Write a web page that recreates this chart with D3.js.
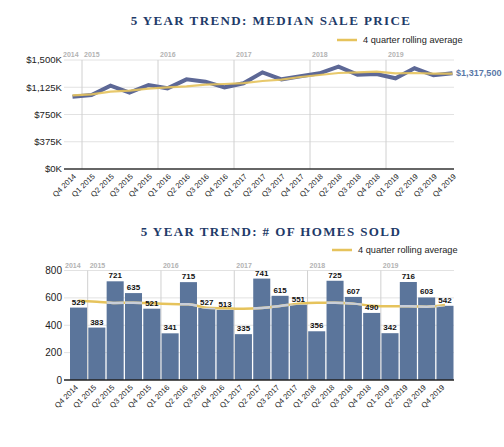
<!DOCTYPE html>
<html>
<head>
<meta charset="utf-8">
<script src="https://cdn.jsdelivr.net/npm/d3@7"></script>
<style>
  body { margin: 0; background: #fff; }
  text { font-family: "Liberation Sans", Arial, sans-serif; }
  .title { font-family: "Liberation Serif", "DejaVu Serif", serif; font-weight: bold; fill: #1e3a68; }
</style>
</head>
<body>
<div id="chart"></div>
<script>

// quarters shared by both charts
var quarters = ["Q4 2014","Q1 2015","Q2 2015","Q3 2015","Q4 2015","Q1 2016","Q2 2016","Q3 2016","Q4 2016",
    "Q1 2017","Q2 2017","Q3 2017","Q4 2017","Q1 2018","Q2 2018","Q3 2018","Q4 2018",
    "Q1 2019","Q2 2019","Q3 2019","Q4 2019"];
var years = ["2014","2015","2016","2017","2018","2019"];

// median sale price (in $)
var medianPrice = [995000,1018000,1146000,1050000,1156000,1110000,1234000,1202000,1124000,
    1179000,1330000,1234000,1275000,1317000,1408000,1298000,1307000,1248000,1386000,1289000,1317500];
var priceRolling = [1014000,1028000,1064000,1078000,1105000,1124000,1138000,1160000,1170000,
    1183000,1211000,1229000,1266000,1294000,1321000,1330000,1339000,1317000,1321000,1312000,1312000];
var priceTicks = [0,375000,750000,1125000,1500000];

// homes sold
var homesSold = [529,383,721,635,521,341,715,527,513,335,741,615,551,356,725,607,490,342,716,603,542];
var homesRolling = [579,572,563,565,560,555,553,528,524,520,526,541,558,565,565,558,543,538,538,536,548];
var homesTicks = [0,200,400,600,800];

var gold = "#e6c35c";

var svg = d3.select("#chart").append("svg")
    .attr("width", 504)
    .attr("height", 447);

svg.append("rect").attr("width", 504).attr("height", 447).attr("fill", "#fff");

function legend(x, y) {
    svg.append("line")
        .attr("x1", x).attr("x2", x + 20)
        .attr("y1", y).attr("y2", y)
        .attr("stroke", gold).attr("stroke-width", 2.5);
    svg.append("text")
        .attr("x", x + 26).attr("y", y + 3.3)
        .attr("font-size", 9.2).attr("fill", "#222")
        .text("4 quarter rolling average");
}

function xLabels(g, xf, axisY, dx) {
    g.selectAll(".xl")
        .data(quarters)
        .enter().append("text")
        .attr("class", "xl")
        .attr("transform", function(d){ return "translate(" + (xf(d) + dx) + "," + (axisY + 6) + ") rotate(-45)"; })
        .attr("text-anchor", "end")
        .attr("dy", "0.35em")
        .attr("font-size", 7.6)
        .attr("fill", "#222")
        .text(function(d){ return d; });
}

/* ---------- chart 1: median sale price ---------- */

svg.append("text").attr("class", "title")
    .attr("x", 271).attr("y", 25)
    .attr("text-anchor", "middle")
    .attr("font-size", 13)
    .attr("letter-spacing", 1.4)
    .text("5 YEAR TREND: MEDIAN SALE PRICE");
legend(337, 40);

var x1 = d3.scalePoint().domain(quarters).range([72.5, 452.5]);
var step1 = x1.step();
var y1 = d3.scaleLinear().domain([0, 1500000]).range([169, 60]);

var g1 = svg.append("g");

g1.selectAll(".grid")
    .data(priceTicks.slice(1))
    .enter().append("line")
    .attr("x1", 64).attr("x2", 454)
    .attr("y1", function(d){ return y1(d); })
    .attr("y2", function(d){ return y1(d); })
    .attr("stroke", "#e2e2e2").attr("stroke-width", 1);

g1.selectAll(".ylab")
    .data(priceTicks)
    .enter().append("text")
    .attr("x", 62)
    .attr("y", function(d){ return y1(d); })
    .attr("dy", "0.35em")
    .attr("text-anchor", "end")
    .attr("font-size", 9.6)
    .attr("fill", "#222")
    .text(function(d){ return "$" + d3.format(",")(d / 1000) + "K"; });

// year separators
g1.selectAll(".yr")
    .data(years.slice(1))
    .enter().append("line")
    .attr("x1", function(d){ return x1("Q1 " + d) - step1 / 2; })
    .attr("x2", function(d){ return x1("Q1 " + d) - step1 / 2; })
    .attr("y1", 60).attr("y2", 169)
    .attr("stroke", "#d0d0d0");

g1.selectAll(".yrl")
    .data(years)
    .enter().append("text")
    .attr("x", function(d){ return d == "2014" ? 63 : x1("Q1 " + d) - step1 / 2 + 2; })
    .attr("y", 57)
    .attr("font-size", 7)
    .attr("font-weight", "bold")
    .attr("fill", "#b3b3b3")
    .text(function(d){ return d; });

g1.append("line")
    .attr("x1", 64).attr("x2", 454)
    .attr("y1", 169).attr("y2", 169)
    .attr("stroke", "#333").attr("stroke-width", 1.5);

var line1 = d3.line()
    .x(function(d, i){ return x1(quarters[i]); })
    .y(function(d){ return y1(d); });

g1.append("path")
    .datum(medianPrice)
    .attr("d", line1)
    .attr("fill", "none")
    .attr("stroke", "#5d6896")
    .attr("stroke-width", 4)
    .attr("stroke-linejoin", "miter");

g1.append("path")
    .datum(priceRolling)
    .attr("d", line1)
    .attr("fill", "none")
    .attr("stroke", gold)
    .attr("stroke-width", 2.2)
    .attr("opacity", 0.9);

g1.append("text")
    .attr("x", 456)
    .attr("y", y1(medianPrice[medianPrice.length - 1]))
    .attr("dy", "0.35em")
    .attr("font-size", 9.1)
    .attr("font-weight", "bold")
    .attr("fill", "#5a77a8")
    .text("$" + d3.format(",")(medianPrice[medianPrice.length - 1]));

xLabels(g1, x1, 169, 2);

/* ---------- chart 2: homes sold ---------- */

svg.append("text").attr("class", "title")
    .attr("x", 271).attr("y", 236)
    .attr("text-anchor", "middle")
    .attr("font-size", 13)
    .attr("letter-spacing", 1.4)
    .text("5 YEAR TREND: # OF HOMES SOLD");
legend(332, 250);

var x2 = d3.scaleBand().domain(quarters).range([70, 453.5]).paddingInner(0.07);
var y2 = d3.scaleLinear().domain([0, 800]).range([380, 270.5]);
var gap2 = x2.step() - x2.bandwidth();

var g2 = svg.append("g");

g2.selectAll(".grid")
    .data(homesTicks.slice(1))
    .enter().append("line")
    .attr("x1", 64).attr("x2", 454)
    .attr("y1", function(d){ return y2(d); })
    .attr("y2", function(d){ return y2(d); })
    .attr("stroke", "#e2e2e2");

g2.selectAll(".ylab")
    .data(homesTicks)
    .enter().append("text")
    .attr("x", 62)
    .attr("y", function(d){ return y2(d); })
    .attr("dy", "0.35em")
    .attr("text-anchor", "end")
    .attr("font-size", 10)
    .attr("fill", "#222")
    .text(function(d){ return d; });

g2.selectAll(".yr")
    .data(years.slice(1))
    .enter().append("line")
    .attr("x1", function(d){ return x2("Q1 " + d) - gap2 / 2; })
    .attr("x2", function(d){ return x2("Q1 " + d) - gap2 / 2; })
    .attr("y1", 270.5).attr("y2", 380)
    .attr("stroke", "#d0d0d0");

g2.selectAll(".yrl")
    .data(years)
    .enter().append("text")
    .attr("x", function(d){ return d == "2014" ? 65 : x2("Q1 " + d) - gap2 / 2 + 2; })
    .attr("y", 268)
    .attr("font-size", 7)
    .attr("font-weight", "bold")
    .attr("fill", "#b3b3b3")
    .text(function(d){ return d; });

g2.selectAll(".bar")
    .data(homesSold)
    .enter().append("rect")
    .attr("class", "bar")
    .attr("x", function(d, i){ return x2(quarters[i]); })
    .attr("y", function(d){ return y2(d); })
    .attr("width", x2.bandwidth())
    .attr("height", function(d){ return 380 - y2(d); })
    .attr("fill", "#5b759b");

var clip = svg.append("clipPath").attr("id", "barclip");
clip.selectAll("rect")
    .data(homesSold)
    .enter().append("rect")
    .attr("x", function(d, i){ return x2(quarters[i]); })
    .attr("y", function(d){ return y2(d); })
    .attr("width", x2.bandwidth())
    .attr("height", function(d){ return 380 - y2(d); });

var line2 = d3.line()
    .curve(d3.curveMonotoneX)
    .x(function(d, i){ return x2(quarters[i]) + x2.bandwidth() / 2; })
    .y(function(d){ return y2(d); });

g2.append("path")
    .datum(homesRolling)
    .attr("d", line2)
    .attr("fill", "none")
    .attr("stroke", gold)
    .attr("stroke-width", 2.5);

g2.append("path")
    .datum(homesRolling)
    .attr("d", line2)
    .attr("clip-path", "url(#barclip)")
    .attr("fill", "none")
    .attr("stroke", "#c9ced8")
    .attr("stroke-width", 2.5);

g2.append("line")
    .attr("x1", 64).attr("x2", 454)
    .attr("y1", 380).attr("y2", 380)
    .attr("stroke", "#222").attr("stroke-width", 1.5);

g2.selectAll(".blab")
    .data(homesSold)
    .enter().append("text")
    .attr("x", function(d, i){ return x2(quarters[i]) + x2.bandwidth() / 2; })
    .attr("y", function(d){ return y2(d) - 3; })
    .attr("text-anchor", "middle")
    .attr("font-size", 8)
    .attr("font-weight", "bold")
    .attr("fill", "#111")
    .text(function(d){ return d; });

xLabels(g2, function(d){ return x2(d) + x2.bandwidth() / 2; }, 380, -2);

</script>
</body>
</html>
